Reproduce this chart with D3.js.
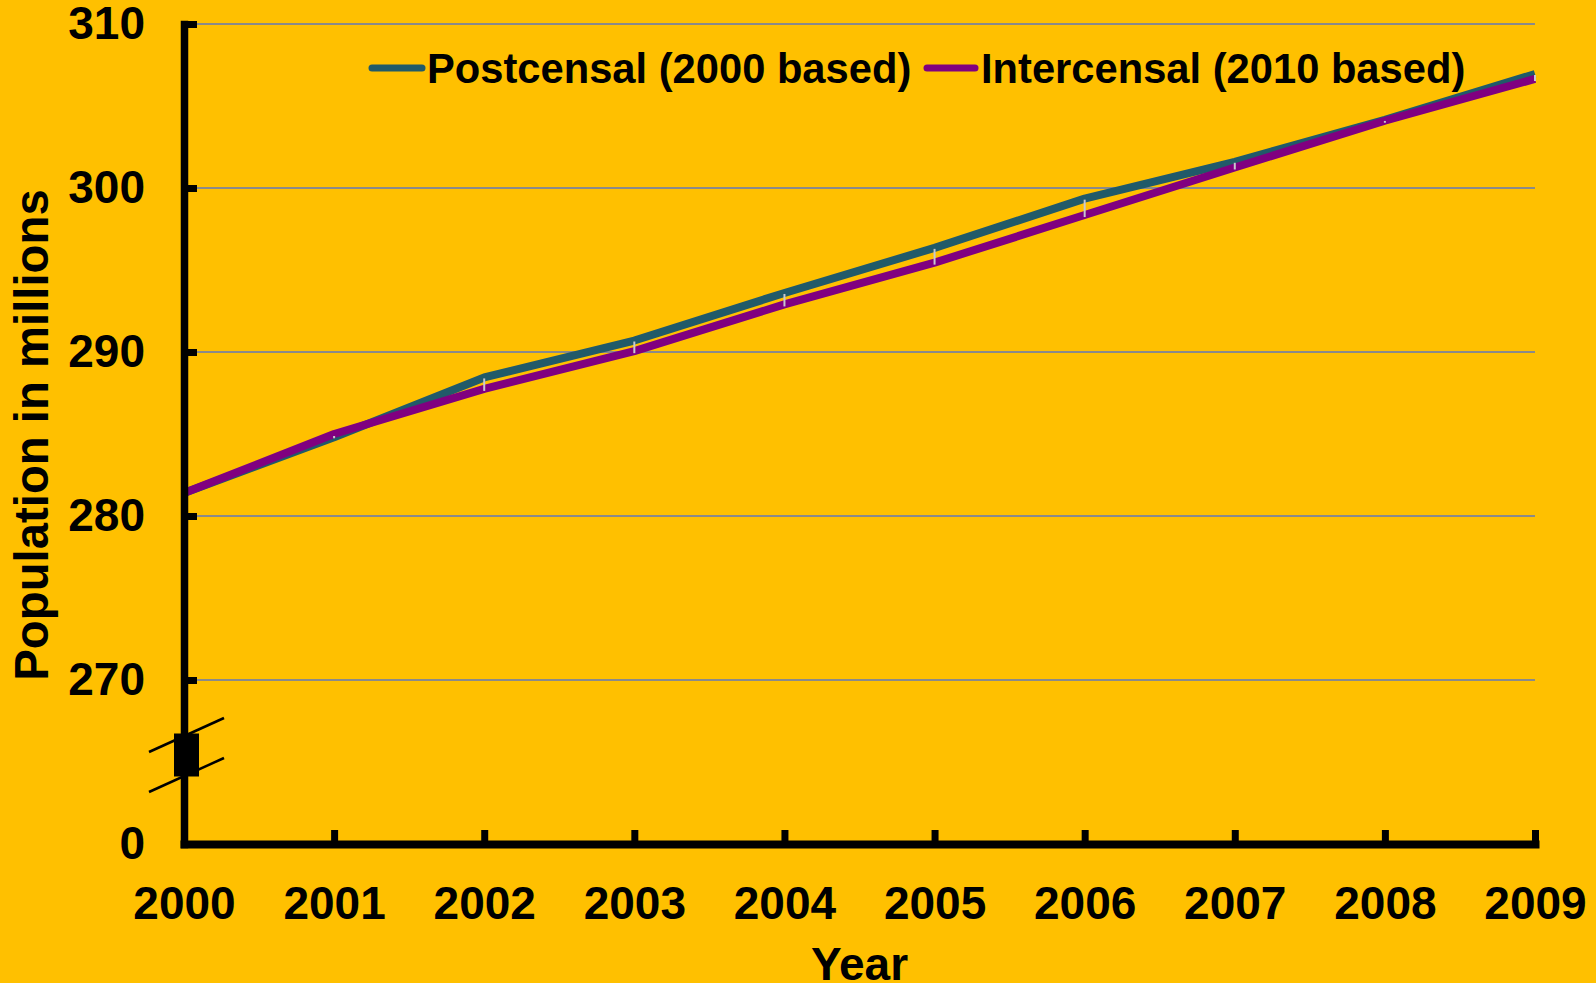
<!DOCTYPE html>
<html>
<head>
<meta charset="utf-8">
<script src="https://cdn.jsdelivr.net/npm/d3@7"></script>
<style>
  html, body { margin: 0; padding: 0; background: #FFC000; overflow: hidden; }
  svg { display: block; }
  text { font-family: "Liberation Sans", Arial, sans-serif; font-weight: bold; fill: #000; }
</style>
</head>
<body>
<svg id="chart" width="1596" height="983"></svg>
<script>
// ---- Data ----
const years = [2000, 2001, 2002, 2003, 2004, 2005, 2006, 2007, 2008, 2009];
const postcensal = [281.4, 284.8, 288.45, 290.7, 293.6, 296.35, 299.35, 301.6, 304.15, 306.95];
const intercensal = [281.4, 285.0, 287.75, 290.05, 292.9, 295.45, 298.35, 301.25, 304.1, 306.65];
const seriesNames = ["Postcensal (2000 based)", "Intercensal (2010 based)"];
const yTickValues = [260, 270, 280, 290, 300, 310];
const yTickLabels = ["0", "270", "280", "290", "300", "310"];
const gridValues = [270, 280, 290, 300, 310];
const xTitle = "Year";
const yTitle = "Population in millions";

// ---- Layout ----
const W = 1596, H = 983;
const mLeft = 184, mRight = 1535, mTop = 24, mBottom = 844;
const colors = ["#215A69", "#800080"];

const svg = d3.select("#chart");
svg.append("rect").attr("width", W).attr("height", H).attr("fill", "#FFC000");

const x = d3.scaleLinear().domain([years[0], years[years.length - 1]]).range([mLeft, mRight]);
const y = d3.scaleLinear().domain([260, 310]).range([mBottom, mTop]);

// Gridlines
svg.append("g").selectAll("line").data(gridValues).join("line")
  .attr("x1", mLeft).attr("x2", mRight)
  .attr("y1", d => y(d)).attr("y2", d => y(d))
  .attr("stroke", "#8a8a8a").attr("stroke-width", 2);

// Series lines
const line = d3.line().x((d, i) => x(years[i])).y(d => y(d));
[postcensal, intercensal].forEach((s, k) => {
  svg.append("path").datum(s)
    .attr("d", line)
    .attr("fill", "none")
    .attr("stroke", colors[k])
    .attr("stroke-width", 8)
    .attr("stroke-linejoin", "round");
});

// Small light marks between the two series at each year
svg.append("g").selectAll("line").data(years).join("line")
  .attr("x1", d => x(d)).attr("x2", d => x(d))
  .attr("y1", (d, i) => y(postcensal[i]) + 1)
  .attr("y2", (d, i) => y(intercensal[i]) + 2)
  .attr("stroke", "#c8c8d0").attr("stroke-width", 2);

// X axis
const xAxis = d3.axisBottom(x)
  .tickValues(years)
  .tickFormat(d3.format("d"))
  .tickSizeInner(-14)
  .tickSizeOuter(0)
  .tickPadding(42);
const gx = svg.append("g").attr("transform", `translate(0,${mBottom})`).call(xAxis);
gx.select(".domain").attr("stroke", "#000").attr("stroke-width", 8).attr("stroke-linecap", "square");
gx.selectAll(".tick line").attr("stroke", "#000").attr("stroke-width", 7);
gx.selectAll(".tick text")
  .style("font-family", '"Liberation Sans", Arial, sans-serif')
  .style("font-weight", "bold").style("font-size", "46px").attr("fill", "#000");

// Y axis
const yAxis = d3.axisLeft(y)
  .tickValues(yTickValues)
  .tickFormat((d, i) => yTickLabels[i])
  .tickSizeInner(-13)
  .tickSizeOuter(0)
  .tickPadding(39);
const gy = svg.append("g").attr("transform", `translate(${mLeft},0)`).call(yAxis);
gy.select(".domain").attr("stroke", "#000").attr("stroke-width", 7.5).attr("stroke-linecap", "square");
gy.selectAll(".tick line").attr("stroke", "#000").attr("stroke-width", 7);
gy.selectAll(".tick text")
  .style("font-family", '"Liberation Sans", Arial, sans-serif')
  .style("font-weight", "bold").style("font-size", "46px").attr("fill", "#000");

// Axis break symbol
const bc = (y(260) + y(270)) / 2 - 7;
svg.append("rect").attr("x", mLeft - 10).attr("y", bc - 21.5).attr("width", 25).attr("height", 43).attr("fill", "#000");
[-20, 20].forEach(off => {
  svg.append("line")
    .attr("x1", mLeft - 35).attr("y1", bc + off + 17)
    .attr("x2", mLeft + 40).attr("y2", bc + off - 17)
    .attr("stroke", "#000").attr("stroke-width", 2.5);
});

// Axis titles
svg.append("text").attr("x", (mLeft + mRight) / 2).attr("y", 980)
  .attr("text-anchor", "middle").style("font-size", "46px").text(xTitle);
svg.append("text")
  .attr("transform", `translate(48,${(mTop + mBottom) / 2 + 1}) rotate(-90)`)
  .attr("text-anchor", "middle").style("font-size", "47.3px").text(yTitle);

// Legend
const legendItems = [
  { name: seriesNames[0], color: colors[0], x1: 372, x2: 422, tx: 427 },
  { name: seriesNames[1], color: colors[1], x1: 927, x2: 975, tx: 981 }
];
const lg = svg.append("g");
legendItems.forEach(it => {
  lg.append("line").attr("x1", it.x1).attr("x2", it.x2).attr("y1", 68).attr("y2", 68)
    .attr("stroke", it.color).attr("stroke-width", 7).attr("stroke-linecap", "round");
  lg.append("text").attr("x", it.tx).attr("y", 82.5).style("font-size", "41.7px").text(it.name);
});
</script>
</body>
</html>
